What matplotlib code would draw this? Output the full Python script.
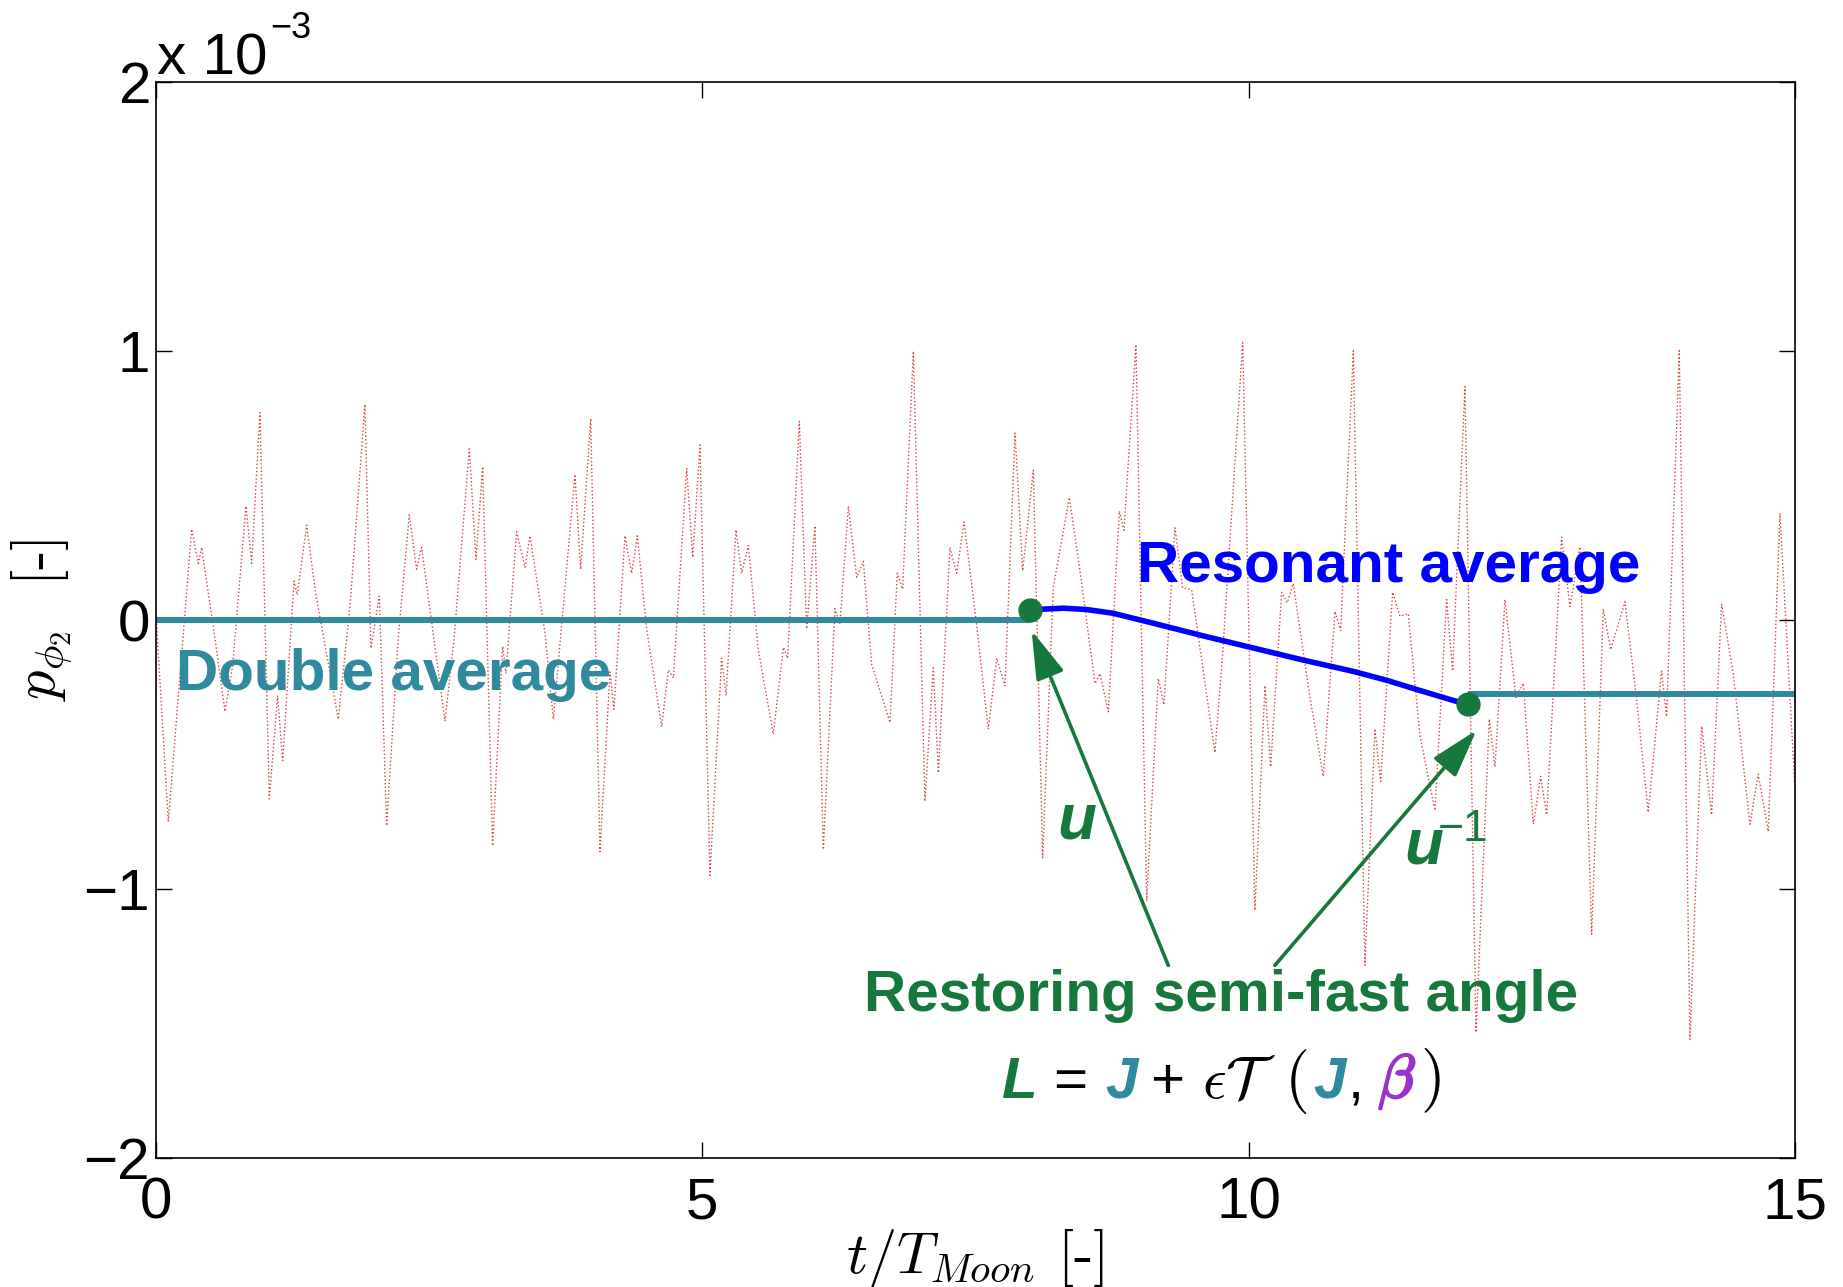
import matplotlib
matplotlib.use("Agg")
import matplotlib.pyplot as plt
import matplotlib.transforms as mtransforms
import matplotlib.patheffects as pe

plt.rcParams['font.family'] = ['Liberation Sans', 'DejaVu Sans']
plt.rcParams['mathtext.fontset'] = 'cm'

# fast oscillating p_phi2 (units of 1e-3), turning points
t_fast = [0.00, 0.11, 0.324, 0.385, 0.415, 0.537, 0.629, 0.699, 0.821, 0.873,
          0.949, 1.035, 1.111, 1.157, 1.261, 1.291, 1.377, 1.453, 1.666, 1.773,
          1.91, 1.965, 2.042, 2.109, 2.216, 2.316, 2.383, 2.429, 2.643, 2.725,
          2.866, 2.927, 2.988, 3.079, 3.171, 3.201, 3.299, 3.376, 3.421, 3.558,
          3.635,
          3.833, 3.885, 3.977, 4.062, 4.154, 4.190, 4.291, 4.352, 4.404, 4.489,
          4.627, 4.688, 4.734, 4.856, 4.911, 4.978, 5.069, 5.176, 5.216, 5.307,
          5.359, 5.420, 5.512, 5.649, 5.741, 5.780, 5.887, 5.954, 6.030, 6.107,
          6.213, 6.259, 6.336, 6.412, 6.473, 6.549, 6.717, 6.784, 6.833, 6.931,
          7.037, 7.114, 7.160, 7.266, 7.327, 7.395, 7.510, 7.617, 7.694, 7.770,
          7.862,
          7.932, 8.029, 8.115, 8.212, 8.359, 8.450, 8.594, 8.640, 8.716, 8.817,
          8.859, 8.969, 9.067, 9.173, 9.225, 9.326, 9.396, 9.479, 9.692, 9.762,
          9.946, 10.058, 10.150, 10.202, 10.303, 10.354, 10.409, 10.562, 10.684, 10.791,
          10.843, 10.959, 11.065, 11.157, 11.209, 11.319, 11.386, 11.462,
          11.569, 11.706, 11.813, 11.868, 11.981, 12.082, 12.204, 12.256, 12.347, 12.448,
          12.515, 12.607, 12.674, 12.729, 12.866, 12.942, 13.034, 13.141, 13.248, 13.315,
          13.446, 13.553, 13.659, 13.781, 13.827, 13.943, 14.041, 14.148, 14.239, 14.331,
          14.437, 14.59, 14.666, 14.758, 14.865, 15.0]
p_fast = [0.0, -0.75, 0.338, 0.211, 0.27, -0.068, -0.34, -0.17, 0.423, 0.211,
          0.771, -0.665, -0.281, -0.523, 0.145, 0.093, 0.353, 0.115, -0.369, 0.049,
          0.802, -0.105, 0.089, -0.765, -0.061, 0.391, 0.189, 0.27, -0.376, -0.075,
          0.636, 0.225, 0.57, -0.839, -0.098, -0.2, 0.328, 0.196, 0.313, -0.046,
          -0.369,
          0.541, 0.189, 0.749, -0.861, -0.193, -0.332, 0.313, 0.174, 0.313, -0.032,
          -0.396, -0.186, -0.215, 0.563, 0.233, 0.651, -0.949, -0.142, -0.281, 0.335,
          0.174, 0.277, -0.112, -0.425, -0.102, -0.142, 0.739, -0.032, 0.35, -0.853,
          0.042, -0.017, 0.423, 0.159, 0.218, -0.164, -0.381, 0.174, 0.115, 0.999,
          -0.674, -0.178, -0.568, 0.269, 0.174, 0.365, -0.017, -0.406, -0.142, -0.245,
          0.695,
          0.183, 0.557, -0.884, 0.121, 0.455, 0.201, -0.236, -0.199, -0.341, 0.405,
          0.334, 1.024, -1.044, -0.217, -0.315, 0.343, 0.121, 0.112, -0.493, -0.128,
          1.031, -1.079, -0.244, -0.546, 0.103, 0.064, 0.135, -0.288, -0.581, 0.032,
          -0.039, 1.001, -1.284, -0.404, -0.6, 0.103, 0.014, 0.023,
          -0.43, -0.708, 0.076, -0.19, 0.868, -1.533, -0.368, -0.546, 0.076, -0.288,
          -0.235, -0.759, -0.581, -0.724, 0.308, 0.05, 0.272, -1.168, 0.041, -0.11,
          0.068, -0.297, -0.715, -0.19, -0.359, 1.001, -1.559, -0.395, -0.724, 0.059,
          -0.199, -0.759, -0.573, -0.786, 0.397, -0.608]

# double average (two pieces) and resonant average
t_double1 = [0.0, 8.0]
p_double1 = [0.0, 0.0]
t_double2 = [12.01, 15.0]
p_double2 = [-0.274, -0.274]
t_res = [8.0, 8.304, 8.518, 8.761, 9.128, 9.585, 10.043, 10.501, 10.959, 11.264, 11.569, 11.874, 12.01]
p_res = [0.038, 0.044, 0.039, 0.025, -0.012, -0.059, -0.104, -0.149, -0.191, -0.224, -0.262, -0.299, -0.314]
t_switch = [8.0, 12.01]
p_switch = [0.038, -0.314]

teal = '#2f8a9e'
green = '#16783c'
blue = '#0000ff'
purple = '#9933cc'
red = '#e04040'

fig = plt.figure(figsize=(18.43, 12.87), dpi=100)
ax = fig.add_axes([0.0848, 0.1002, 0.889, 0.8361])

ax.plot(t_fast, p_fast, ':', color=red, lw=1.0)
ax.plot(t_double1, p_double1, color=teal, lw=4.3, solid_capstyle='butt')
ax.plot(t_double2, p_double2, color=teal, lw=4.3, solid_capstyle='butt')
ax.plot(t_res, p_res, color=blue, lw=4.0)
ax.plot(t_switch, p_switch, 'o', color=green, ms=16.5)

ax.set_xlim(0, 15)
ax.set_ylim(-2, 2)
ax.set_xticks([0, 5, 10, 15])
ax.set_yticks([-2, -1, 0, 1, 2])
ax.tick_params(direction='in', length=11.5, width=1, top=True, right=True, labelsize=42)
ax.tick_params(axis='x', pad=13)
ax.tick_params(axis='y', pad=4.5)
for s in ax.spines.values():
    s.set_linewidth(1.2)

ax.set_xlabel(r"$t/T_{Moon}$ [-]", fontsize=42, fontfamily='cmr10')
ax.xaxis.set_label_coords(0.5, -0.064)
ax.set_ylabel(r"$p_{\phi_2}$  [-]", fontsize=42, fontfamily='cmr10')
ax.yaxis.set_label_coords(-0.0496, 0.5)

# MATLAB style exponent
ax.text(0.0004, 1.0074, "x 10", transform=ax.transAxes, fontsize=42, ha='left', va='baseline')
ax.text(0.0694, 1.0406, "\u22123", transform=ax.transAxes, fontsize=26, ha='left', va='baseline')

# arrows
arrow_kw = dict(arrowstyle='-|>,head_length=0.5,head_width=0.15', mutation_scale=60,
                color=green, lw=2.6, shrinkA=0, shrinkB=0)
ax.annotate('', xy=(8.014, -0.039), xytext=(9.265, -1.284), arrowprops=arrow_kw)
ax.annotate('', xy=(12.088, -0.409), xytext=(10.24, -1.284), arrowprops=arrow_kw)

bold = dict(fontsize=42, fontweight='bold')
ax.text(0.18, -0.262, "Double average", color=teal, ha='left', va='baseline', **bold)
ax.text(8.98, 0.14, "Resonant average", color=blue, ha='left', va='baseline', **bold)
ax.text(9.75, -1.455, "Restoring semi-fast angle", color=green, ha='center', va='baseline', **bold)

ax.text(8.246, -0.812, "u", color=green, fontsize=46, fontweight='bold', fontstyle='italic',
        ha='left', va='baseline')
ax.text(11.43, -0.905, "u", color=green, fontsize=46, fontweight='bold', fontstyle='italic',
        ha='left', va='baseline')
ax.text(11.734, -0.82, "\u22121", color=green, fontsize=32, ha='left', va='baseline')


def rich_text(ax, x, y, pieces):
    # lay out coloured pieces side by side, centred on x, sharing a baseline
    renderer = fig.canvas.get_renderer()
    items = []
    for s, gap, kw in pieces:
        t = ax.text(x, y, s, ha='left', va='baseline', **kw)
        w = t.get_window_extent(renderer).width
        items.append((t, w, gap))
    total = sum(w + g for _, w, g in items)
    off = -total / 2
    for t, w, g in items:
        t.set_transform(mtransforms.offset_copy(ax.transData, fig=fig, x=off, y=0, units='dots'))
        off += w + g


sz = 42
bi = dict(fontsize=sz, fontweight='bold', fontstyle='italic')
rich_text(ax, 9.75, -1.775, [
    ("L", 16, dict(color=green, **bi)),
    ("=", 18, dict(color='k', fontsize=sz)),
    ("J", 12, dict(color=teal, **bi)),
    ("+", 18, dict(color='k', fontsize=sz)),
    (r"$\epsilon\mathcal{T}$", 8, dict(color='k', fontsize=sz)),
    (r"$($", 6, dict(color='k', fontsize=46)),
    ("J", 2, dict(color=teal, **bi)),
    (",", 14, dict(color='k', fontsize=sz)),
    (r"$\beta$", 4, dict(color=purple, fontsize=44,
                         path_effects=[pe.withStroke(linewidth=1.8, foreground=purple)])),
    (r"$)$", 0, dict(color='k', fontsize=46)),
])

fig.savefig('out.png', dpi=100)
